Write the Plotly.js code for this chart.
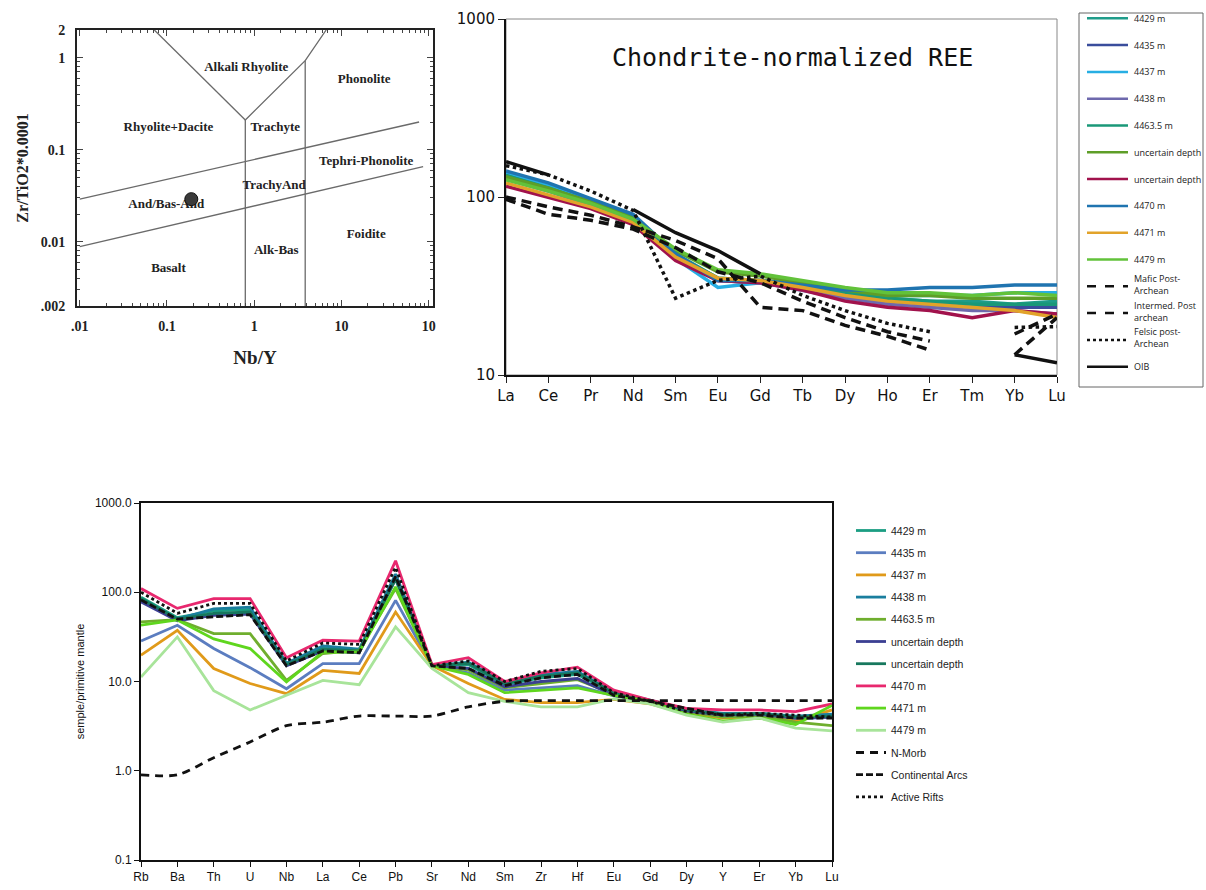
<!DOCTYPE html>
<html><head><meta charset="utf-8">
<script src="https://cdn.plot.ly/plotly-3.0.1.min.js"></script>
<style>html,body{margin:0;padding:0;background:#fff}</style>
</head><body><div id="chart" style="width:1206px;height:890px"></div>
<script>
// ================= Panel A: Nb/Y vs Zr/TiO2*0.0001 =================
const bV1X=[0.79,0.79], bV1Y=[0.002,0.21];
const bV2X=[3.84,3.84], bV2Y=[0.002,0.93];
const bVLeftX=[0.79,0.0716], bVLeftY=[0.21,2];
const bVRightX=[0.79,3.84,6.68], bVRightY=[0.21,0.93,2];
const bUpperX=[0.01,77.6], bUpperY=[0.029,0.2];
const bLowerX=[0.01,86.3], bLowerY=[0.00883,0.0656];
const fieldNames=['Alkali Rhyolite','Phonolite','Rhyolite+Dacite','Trachyte','Tephri-Phonolite','TrachyAnd','And/Bas-And','Foidite','Alk-Bas','Basalt'];
const fieldX=[0.81,18.2,0.104,1.74,19.2,1.69,0.098,19.2,1.79,0.104];
const fieldY=[0.78,0.58,0.173,0.173,0.0743,0.041,0.025,0.0119,0.008,0.0051];
const sampleNbY=[0.19];
const sampleZrTi=[0.029];
const tasXTickVals=[0.01,0.1,1,10,100];
const tasXTickText=['.01','0.1','1','10','10'];
const tasYTickVals=[0.002,0.01,0.1,1,2];
const tasYTickText=['.002','0.01','0.1','1','2'];

// ================= Panel B: Chondrite-normalized REE =================
const reeElements=['La','Ce','Pr','Nd','Sm','Eu','Gd','Tb','Dy','Ho','Er','Tm','Yb','Lu'];
const ree4429=[135,115,95,78,48,35,34,32,29,27,26,26,25,26];
const ree4435=[128,110,92,75,46,34,33,31,28,26,25,24,24,24];
const ree4437=[138,118,97,78,45,31,33,31,29,28,28,28,29,29];
const ree4438=[126,108,90,74,45,34,33,30,27,25,24,23,23,22];
const ree44635=[132,112,94,77,47,35,34,32,29,27,26,25,25,25];
const reeUnc1=[130,112,94,76,50,38,36,33,30,28,28,27,27,27];
const reeUnc2=[115,100,86,70,44,34,33,30,26,24,23,21,23,22];
const ree4470=[140,120,98,80,48,34,34,32,30,30,31,31,32,32];
const ree4471=[120,103,88,72,46,35,34,31,28,26,25,24,23,21];
const ree4479=[125,108,92,75,51,39,37,34,31,29,29,28,29,28];
const reeMafic=[100,88,79,68,57,45,24,23,19,16.5,13.8,null,13,21];
const reeInterm=[97,80,74,66,52,38,33,26,21,17.5,15.5,null,17,22];
const reeFelsic=[150,133,108,84,27,34,36,28,23,19.5,17.5,null,18.5,18.7];
const reeOIB=[158,133,null,85,63,50,37,null,null,null,null,null,13,11.7];
const reeNames=['4429 m','4435 m','4437 m','4438 m','4463.5 m','uncertain depth','uncertain depth','4470 m','4471 m','4479 m','Mafic Post-<br>Archean','Intermed. Post<br>archean','Felsic post-<br>Archean','OIB'];

// ================= Panel C: primitive-mantle spider =================
const spElements=['Rb','Ba','Th','U','Nb','La','Ce','Pb','Sr','Nd','Sm','Zr','Hf','Eu','Gd','Dy','Y','Er','Yb','Lu'];
const sp4429=[88,52,62,64,16,24,22,150,15,15.5,9.2,11,12,7.4,6.1,4.8,4.3,4.3,4.0,4.2];
const sp4435=[28.5,42.7,23.4,14.3,8.3,15.9,15.9,81,15,12.5,8.0,8.5,9.0,6.9,5.9,4.6,4.1,4.2,3.8,4.0];
const sp4437=[19.7,37.5,14,9.5,7.3,13.3,12.3,60,15,9.5,6.3,5.8,5.8,6.3,5.6,4.4,3.9,4.1,3.6,4.8];
const sp4438=[82,50,65,68,16,25,23,160,15,16.5,9.8,12,13,7.6,6.2,4.9,4.4,4.4,4.1,4.3];
const sp44635=[46.6,49.4,34.4,34.4,10.3,20.6,22.4,110,15,13.5,8.5,9.5,10.5,7.2,6.0,4.6,4.0,4.1,3.5,3.2];
const spUnc1=[78,48,55,57,15,22,21,140,15,14,8.7,10,10.8,7.0,6.0,4.7,4.2,4.3,3.9,4.0];
const spUnc2=[85,50,58,60,15.5,23,22,140,15,16,9.5,11.5,12.5,7.5,6.1,4.8,4.3,4.4,4.0,4.1];
const sp4470=[110,66,85,85,18.5,29,28.4,225,15.5,18.5,10,12.5,14.5,8.0,6.2,5.0,4.8,4.8,4.6,5.6];
const sp4471=[42.7,49,30,23.4,9.9,21.5,21.4,115,15,12,7.5,8,8.5,7.0,6.0,4.3,3.6,3.9,3.3,5.4];
const sp4479=[11.2,31.6,7.9,4.8,7,10.3,9.2,40.9,14,7.5,6.0,5.2,5.2,6.4,5.6,4.2,3.5,3.9,3.0,2.8];
const spNMorb=[0.9,0.9,1.4,2.1,3.2,3.5,4.1,4.1,4.1,5.2,6.0,6.1,6.1,6.1,6.1,6.1,6.1,6.1,6.1,6.1];
const spContArcs=[82,50,53,56,15,22,21,150,15,14,9,11,12,7,6,5,4.2,4.2,3.9,3.9];
const spActRifts=[100,58,75,75,17,27,26,190,15,17,10,13,14,7.5,6,4.6,4.2,4.4,4.2,4.0];
const spNames=['4429 m','4435 m','4437 m','4438 m','4463.5 m','uncertain depth','uncertain depth','4470 m','4471 m','4479 m','N-Morb','Continental Arcs','Active Rifts'];

// ---------------- styles ----------------
const W=1206,H=890;
const PX=x=>x/W, PY=y=>1-y/H;
const serif={family:'Liberation Serif, Times New Roman, serif',weight:'bold',color:'#222'};
const reeColors=['#1f9c8a','#3a4d9c','#27aee3','#6e69ad','#1a9878','#5e9e28','#a1124c','#1f74b0','#e2a32a','#62c23a','#111','#111','#111','#111'];
const reeDash=['solid','solid','solid','solid','solid','solid','solid','solid','solid','solid','10px,6px','10px,6px','dot','solid'];
const spColors=['#1b9e83','#5b7dc0','#e09a1a','#1a7e9e','#6fae2e','#3b3f92','#17785e','#e8286e','#5fd61e','#a8e49a','#111','#111','#111'];
const spDash=['solid','solid','solid','solid','solid','solid','solid','solid','solid','solid','8px,6px','7px,3px','dot'];

const traces=[];
const bLine={color:'#6a6a6a',width:1.3};
[[bV1X,bV1Y],[bV2X,bV2Y],[bVLeftX,bVLeftY],[bVRightX,bVRightY],[bUpperX,bUpperY],[bLowerX,bLowerY]].forEach(p=>{
  traces.push({x:p[0],y:p[1],xaxis:'x',yaxis:'y',mode:'lines',line:bLine,showlegend:false,hoverinfo:'skip'});
});
traces.push({x:fieldX,y:fieldY,text:fieldNames,mode:'text',xaxis:'x',yaxis:'y',textfont:Object.assign({size:13},serif),showlegend:false,hoverinfo:'skip'});
traces.push({x:sampleNbY,y:sampleZrTi,mode:'markers',xaxis:'x',yaxis:'y',marker:{size:13,color:'#3a3a3a',line:{color:'#111',width:1}},showlegend:false});

const reeSeries=[ree4429,ree4435,ree4437,ree4438,ree44635,reeUnc1,reeUnc2,ree4470,ree4471,ree4479,reeMafic,reeInterm,reeFelsic,reeOIB];
reeSeries.forEach((s,i)=>{
  traces.push({x:reeElements,y:s,xaxis:'x2',yaxis:'y2',mode:'lines',name:reeNames[i],
    line:{color:reeColors[i],width:3.5,dash:reeDash[i]},connectgaps:false,showlegend:false});
});

const spSeries=[sp4429,sp4435,sp4437,sp4438,sp44635,spUnc1,spUnc2,sp4470,sp4471,sp4479,spNMorb,spContArcs,spActRifts];
spSeries.forEach((s,i)=>{
  traces.push({x:spElements,y:s,xaxis:'x3',yaxis:'y3',mode:'lines',name:spNames[i],legendgroup:'g'+i,
    line:{color:spColors[i],width:2.8,dash:spDash[i],shape:(i===10?'spline':'linear'),smoothing:0.8},showlegend:true});
});

// minor tick values for panel A
const minorX=[],minorY=[];
[0.01,0.1,1,10].forEach(d=>{for(let k=2;k<10;k++)minorX.push(d*k);});
[0.001,0.01,0.1,1].forEach(d=>{for(let k=2;k<10;k++){const v=d*k;if(v>0.002&&v<2)minorY.push(v);}});

const shapes=[];
const annotations=[];
// REE panel gray top/right frame
shapes.push({type:'rect',xref:'x2 domain',yref:'y2 domain',x0:0,x1:1,y0:0,y1:1,line:{color:'#888',width:1},layer:'below'});
annotations.push({xref:'paper',yref:'paper',x:PX(792),y:PY(57),text:'Chondrite-normalized REE',showarrow:false,
  font:{family:'DejaVu Sans Mono, monospace',size:25,color:'#111'},xanchor:'center',yanchor:'middle'});
// REE manual legend
shapes.push({type:'rect',xref:'paper',yref:'paper',x0:PX(1079),x1:PX(1203),y0:PY(13),y1:PY(387),line:{color:'#666',width:1}});
reeNames.forEach((n,i)=>{
  const yy=18.3+i*26.8;
  shapes.push({type:'line',xref:'paper',yref:'paper',x0:PX(1087),x1:PX(1128),y0:PY(yy),y1:PY(yy),
    line:{color:reeColors[i],width:2.5,dash:reeDash[i]==='dot'?'dot':(reeDash[i]==='solid'?'solid':'dash')}});
  annotations.push({xref:'paper',yref:'paper',x:PX(1132),y:PY(yy-(n.includes('<br>')?2:0)),text:n,showarrow:false,xanchor:'left',yanchor:'middle',align:'left',
    font:{family:'Open Sans, sans-serif',size:9,color:'#222'}});
});

const layout={
  width:W,height:H,margin:{l:0,r:0,t:0,b:0,autoexpand:false},
  paper_bgcolor:'#fff',plot_bgcolor:'#fff',showlegend:true,
  xaxis:{domain:[PX(77),PX(433)],anchor:'y',type:'log',range:[Math.log10(0.0093),Math.log10(112)],
    tickmode:'array',tickvals:tasXTickVals,ticktext:tasXTickText,ticks:'inside',ticklen:6,tickcolor:'#444',ticklabelstandoff:6,
    minor:{tickmode:'array',tickvals:minorX,ticks:'inside',ticklen:3,tickcolor:'#444',showgrid:false},
    showline:true,linecolor:'#222',linewidth:2,mirror:'allticks',showgrid:false,zeroline:false,
    tickfont:Object.assign({size:14},serif),title:{text:'Nb/Y',font:Object.assign({size:19},serif),standoff:18}},
  yaxis:{domain:[PY(306),PY(30)],anchor:'x',type:'log',range:[Math.log10(0.002),Math.log10(2)],
    tickmode:'array',tickvals:tasYTickVals,ticktext:tasYTickText,ticks:'inside',ticklen:6,tickcolor:'#444',ticklabelstandoff:7,
    minor:{tickmode:'array',tickvals:minorY,ticks:'inside',ticklen:3,tickcolor:'#444',showgrid:false},
    showline:true,linecolor:'#222',linewidth:2,mirror:'allticks',showgrid:false,zeroline:false,
    tickfont:Object.assign({size:14},serif),title:{text:'Zr/TiO2*0.0001',font:Object.assign({size:16},serif),standoff:8}},
  xaxis2:{domain:[PX(506),PX(1057)],anchor:'y2',type:'category',categoryarray:reeElements,range:[0,13],
    ticks:'outside',ticklen:6,tickcolor:'#222',showline:true,linecolor:'#111',linewidth:2,showgrid:false,zeroline:false,
    tickfont:{family:'DejaVu Sans, sans-serif',size:15,color:'#111'}},
  yaxis2:{domain:[PY(375),PY(19)],anchor:'x2',type:'log',range:[1,3],tickmode:'array',tickvals:[10,100,1000],ticktext:['10','100','1000'],
    ticks:'outside',ticklen:6,tickcolor:'#222',showline:true,linecolor:'#111',linewidth:2,showgrid:false,zeroline:false,
    tickfont:{family:'DejaVu Sans, sans-serif',size:15,color:'#111'}},
  xaxis3:{domain:[PX(141),PX(832)],anchor:'y3',type:'category',categoryarray:spElements,range:[0,19],
    ticks:'outside',ticklen:5,tickcolor:'#111',showline:true,linecolor:'#111',linewidth:2,mirror:true,showgrid:false,zeroline:false,
    tickfont:{family:'Liberation Sans, Arial, sans-serif',size:12,color:'#111'}},
  yaxis3:{domain:[PY(860),PY(503)],anchor:'x3',type:'log',range:[-1,3],tickmode:'array',tickvals:[0.1,1,10,100,1000],tickformat:'.1f',
    ticks:'outside',ticklen:5,tickcolor:'#111',showline:true,linecolor:'#111',linewidth:2,mirror:true,showgrid:false,zeroline:false,
    tickfont:{family:'Liberation Sans, Arial, sans-serif',size:12,color:'#111'},
    title:{text:'semple/primitive mantle',font:{family:'Liberation Sans, Arial, sans-serif',size:11,color:'#111'},standoff:8}},
  legend:{x:PX(851),y:PY(516),xanchor:'left',yanchor:'top',bgcolor:'rgba(0,0,0,0)',borderwidth:0,
    font:{family:'Liberation Sans, Arial, sans-serif',size:10.5,color:'#222'},tracegroupgap:3.2,traceorder:'grouped'},
  shapes:shapes,annotations:annotations
};
Plotly.newPlot('chart',traces,layout,{staticPlot:true,displayModeBar:false});
</script></body></html>
